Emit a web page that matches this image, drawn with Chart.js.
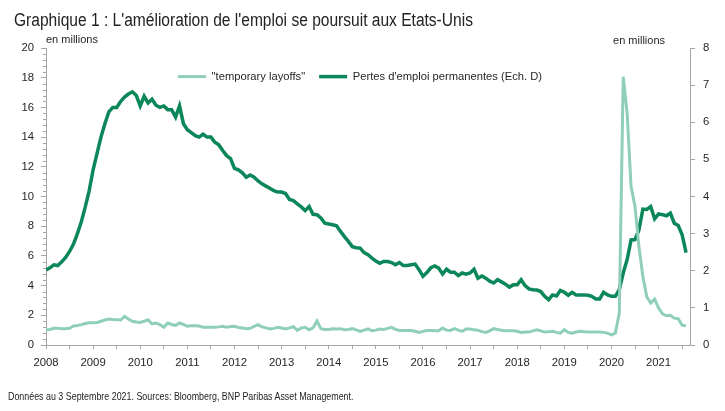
<!DOCTYPE html>
<html lang="fr">
<head>
<meta charset="utf-8">
<title>Graphique 1</title>
<script src="https://cdn.jsdelivr.net/npm/chart.js@4.4.1/dist/chart.umd.min.js"></script>
<style>
  html, body { margin: 0; padding: 0; background: #fff; }
  #wrap { position: relative; width: 725px; height: 411px; overflow: hidden;
          font-family: "Liberation Sans", Arial, sans-serif; color: #222; }
  #title { position: absolute; left: 14px; top: 10px; font-size: 18px; white-space: nowrap;
           transform: scaleX(0.864); transform-origin: left top; }
  #footer { position: absolute; left: 8px; top: 390px; font-size: 10.5px; white-space: nowrap;
            transform: scaleX(0.846); transform-origin: left top; }
  #chartBox { position: absolute; left: 0; top: 0; width: 725px; height: 411px; }
</style>
</head>
<body>
<div id="wrap">
  <div id="chartBox"><canvas id="jobsChart"></canvas></div>
  <div id="title">Graphique 1 : L'amélioration de l'emploi se poursuit aux Etats-Unis</div>
  <div id="footer">Données au 3 Septembre 2021. Sources: Bloomberg, BNP Paribas Asset Management.</div>
</div>
<script>
const fontFamily = "'Liberation Sans', Arial, sans-serif";
const textColor = "#262626";
const axisColor = "#a6a6a6";
const lightGreen = "#8fcfb9";
const darkGreen = "#0b8759";

// monthly series, Jan 2008 -> Aug 2021, millions
const startYear = 2008;
const tempLayoffs = [
  1.03, 1.05, 1.12, 1.12, 1.10, 1.10, 1.12, 1.28, 1.32, 1.37, 1.45, 1.50,
  1.50, 1.52, 1.60, 1.68, 1.75, 1.72, 1.70, 1.68, 1.92, 1.75, 1.60, 1.55,
  1.52, 1.60, 1.70, 1.42, 1.48, 1.38, 1.20, 1.48, 1.38, 1.32, 1.48, 1.38,
  1.26, 1.30, 1.30, 1.28, 1.19, 1.20, 1.20, 1.19, 1.22, 1.26, 1.19, 1.24,
  1.26, 1.18, 1.14, 1.10, 1.12, 1.25, 1.37, 1.22, 1.15, 1.08, 1.12, 1.19,
  1.14, 1.08, 1.15, 1.23, 0.98, 1.15, 1.19, 1.03, 1.15, 1.62, 1.10, 1.05,
  1.05, 1.10, 1.08, 1.10, 1.03, 1.05, 1.10, 1.02, 0.92, 1.00, 1.08, 0.96,
  1.00, 1.08, 1.05, 1.12, 1.19, 1.05, 0.98, 0.98, 0.98, 0.97, 0.92, 0.85,
  0.92, 0.98, 0.98, 0.96, 0.96, 1.14, 1.00, 0.98, 1.10, 1.00, 0.92, 1.08,
  1.08, 1.02, 1.00, 0.90, 0.85, 0.95, 1.10, 1.05, 1.00, 0.96, 0.96, 0.96,
  0.92, 0.85, 0.87, 0.87, 0.95, 1.03, 0.95, 0.87, 0.90, 0.92, 0.85, 0.80,
  1.03, 0.85, 0.80, 0.87, 0.92, 0.90, 0.87, 0.87, 0.87, 0.87, 0.85, 0.80,
  0.68, 0.80, 2.15, 18.07, 15.60, 10.67, 9.33, 6.63, 4.62, 3.23, 2.82, 3.09,
  2.49, 2.10, 1.97, 2.00, 1.81, 1.77, 1.33, 1.30
];
const permanentLosses = [
  2.02, 2.08, 2.16, 2.14, 2.24, 2.36, 2.52, 2.72, 3.00, 3.32, 3.72, 4.16,
  4.72, 5.16, 5.60, 5.96, 6.28, 6.40, 6.40, 6.56, 6.68, 6.76, 6.82, 6.72,
  6.44, 6.70, 6.52, 6.62, 6.46, 6.40, 6.44, 6.34, 6.34, 6.14, 6.44, 5.96,
  5.80, 5.72, 5.64, 5.60, 5.68, 5.60, 5.60, 5.46, 5.39, 5.24, 5.10, 5.02,
  4.76, 4.72, 4.64, 4.52, 4.58, 4.52, 4.42, 4.34, 4.28, 4.22, 4.16, 4.12,
  4.12, 4.08, 3.92, 3.89, 3.80, 3.72, 3.62, 3.73, 3.52, 3.51, 3.42, 3.28,
  3.26, 3.24, 3.21, 3.06, 2.92, 2.79, 2.65, 2.62, 2.61, 2.49, 2.43, 2.34,
  2.26, 2.20, 2.25, 2.25, 2.22, 2.16, 2.22, 2.14, 2.14, 2.16, 2.18, 2.03,
  1.85, 1.95, 2.08, 2.13, 2.07, 1.91, 2.04, 1.96, 1.96, 1.87, 1.94, 1.91,
  1.94, 2.04, 1.80, 1.86, 1.80, 1.72, 1.67, 1.76, 1.70, 1.64, 1.56, 1.62,
  1.62, 1.76, 1.60, 1.51, 1.49, 1.48, 1.44, 1.31, 1.22, 1.35, 1.32, 1.47,
  1.42, 1.34, 1.42, 1.35, 1.35, 1.35, 1.34, 1.31, 1.24, 1.24, 1.42, 1.35,
  1.31, 1.31, 1.49, 1.94, 2.30, 2.83, 2.84, 3.10, 3.66, 3.65, 3.73, 3.40,
  3.53, 3.51, 3.48, 3.55, 3.28, 3.22, 2.97, 2.49
];

const yearTicks = [2008, 2009, 2010, 2011, 2012, 2013, 2014, 2015, 2016, 2017, 2018, 2019, 2020, 2021];
const leftUnit = "en millions";
const rightUnit = "en millions";
const tickFont = { size: 11.3 };

function monthly(values) {
  return values.map((v, i) => ({ x: startYear + i / 12, y: v }));
}

// unit notes above both axes, minor ticks on the left axis, legend as one row inside the plot
const axisNotes = {
  id: "axisNotes",
  beforeLayout(chart) {
    if (chart.legend) chart.legend.isHorizontal = () => true;
  },
  afterLayout(chart) {
    chart.legend.top += 9;
    chart.legend.left += 38;
    chart.legend.right += 38;
  },
  afterDraw(chart) {
    const { ctx, chartArea, scales } = chart;
    ctx.save();
    ctx.strokeStyle = axisColor;
    ctx.lineWidth = 1;
    ctx.beginPath();
    for (let k = 1; k < 50; k++) {
      if (k % 5 === 0) continue;
      const py = Math.round(scales.y.getPixelForValue(k * 0.4)) + 0.5;
      ctx.moveTo(scales.y.right - 3, py);
      ctx.lineTo(scales.y.right, py);
    }
    ctx.stroke();
    ctx.font = "11px " + fontFamily;
    ctx.fillStyle = textColor;
    ctx.textBaseline = "middle";
    ctx.textAlign = "left";
    ctx.fillText(leftUnit, chartArea.left, chartArea.top - 8);
    ctx.textAlign = "right";
    ctx.fillText(rightUnit, chartArea.right - 25, chartArea.top - 7);
    ctx.restore();
  }
};

Chart.defaults.font.family = fontFamily;
Chart.defaults.color = textColor;

new Chart(document.getElementById("jobsChart"), {
  type: "line",
  data: {
    datasets: [
      {
        label: "\"temporary layoffs\"",
        data: monthly(tempLayoffs),
        yAxisID: "y",
        borderColor: lightGreen,
        backgroundColor: lightGreen,
        borderWidth: 3,
        pointRadius: 0,
        tension: 0
      },
      {
        label: "Pertes d'emploi permanentes (Ech. D)",
        data: monthly(permanentLosses),
        yAxisID: "y2",
        borderColor: darkGreen,
        backgroundColor: darkGreen,
        borderWidth: 3.5,
        pointRadius: 0,
        tension: 0
      }
    ]
  },
  options: {
    responsive: true,
    maintainAspectRatio: false,
    animation: false,
    layout: { padding: { top: 48, left: 0, right: 0, bottom: 0 } },
    plugins: {
      title: { display: false },
      tooltip: { enabled: false },
      legend: {
        position: "chartArea",
        align: "center",
        labels: {
          usePointStyle: true,
          pointStyle: "line",
          pointStyleWidth: 28,
          padding: 14,
          color: textColor,
          font: { size: 11.2 }
        }
      }
    },
    scales: {
      x: {
        type: "linear",
        min: 2008,
        max: 2021.667,
        afterBuildTicks(scale) {
          const ticks = [];
          yearTicks.forEach(y => { ticks.push({ value: y }); ticks.push({ value: y + 0.5 }); });
          scale.ticks = ticks.filter(t => t.value <= 2021.667);
        },
        ticks: {
          autoSkip: false,
          maxRotation: 0,
          padding: 7,
          color: textColor,
          font: tickFont,
          callback: v => (Number.isInteger(v) ? String(v) : "")
        },
        grid: { drawOnChartArea: false, tickLength: 4, color: axisColor },
        border: { color: axisColor },
        afterFit(scale) { scale.height = 66; }
      },
      y: {
        position: "left",
        min: 0,
        max: 20,
        ticks: { stepSize: 2, padding: 7, color: textColor, font: tickFont },
        grid: { drawOnChartArea: false, tickLength: 5, color: axisColor },
        border: { color: axisColor },
        afterFit(scale) { scale.width = 46; }
      },
      y2: {
        position: "right",
        min: 0,
        max: 8,
        ticks: { stepSize: 1, padding: 8, color: textColor, font: tickFont },
        grid: { drawOnChartArea: false, tickLength: 5, color: axisColor },
        border: { color: axisColor },
        afterFit(scale) { scale.width = 35; }
      }
    }
  },
  plugins: [axisNotes]
});
</script>
</body>
</html>
